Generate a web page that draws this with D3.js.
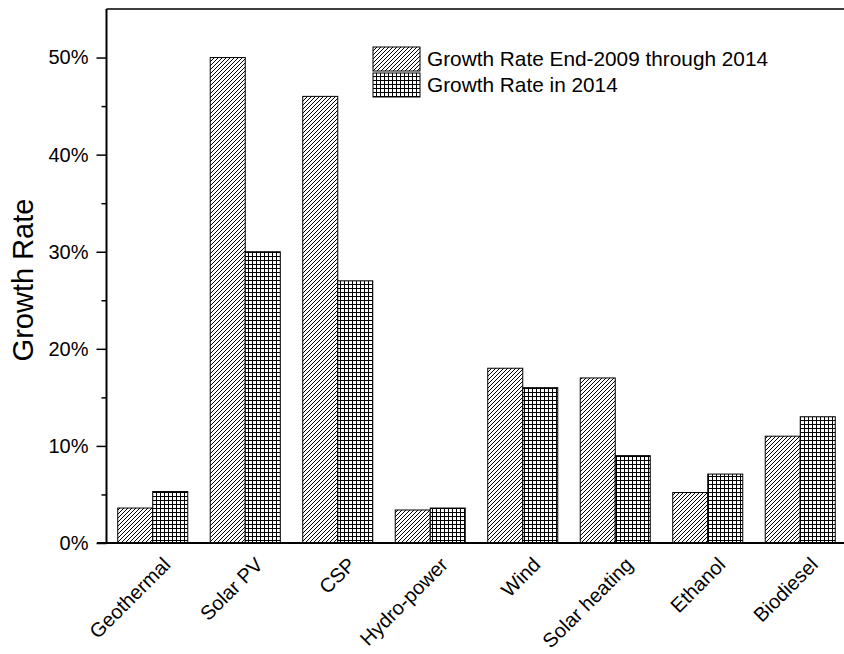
<!DOCTYPE html>
<html><head><meta charset="utf-8">
<script src="https://cdn.jsdelivr.net/npm/d3@7"></script>
<style>body{margin:0;background:#fff}svg{display:block}text{font-family:Arial,"Liberation Sans",sans-serif;fill:#000}</style>
</head><body><svg id="c" width="844" height="654"></svg>
<script>
const categories = ["Geothermal","Solar PV","CSP","Hydro-power","Wind","Solar heating","Ethanol","Biodiesel"];
const seriesNames = ["Growth Rate End-2009 through 2014","Growth Rate in 2014"];
const rate2009to2014 = [3.6, 50, 46, 3.4, 18, 17, 5.2, 11];
const rate2014 = [5.3, 30, 27, 3.6, 16, 9, 7.1, 13];
const yTicks = [0, 10, 20, 30, 40, 50];
const yMinorTicks = [5, 15, 25, 35, 45];

const svg = d3.select("#c");
const L = 106.5, R = 846.5, T = 9, B = 543;
const y = d3.scaleLinear().domain([0, 55]).range([B, T]);
const x = d3.scaleBand().domain(categories).range([L, R]).paddingInner(0.243).paddingOuter(0.1215);
const xs = d3.scaleBand().domain([0,1]).range([0, x.bandwidth()]);

const defs = svg.append("defs");
const ph = defs.append("pattern").attr("id","hatch").attr("patternUnits","userSpaceOnUse").attr("width",4).attr("height",4);
ph.append("rect").attr("width",4).attr("height",4).attr("fill","#fff");
ph.append("path").attr("d","M0,4 L4,0 M-1,1 L1,-1 M3,5 L5,3").attr("stroke","#000").attr("stroke-width",1);
const pg = defs.append("pattern").attr("id","grid").attr("patternUnits","userSpaceOnUse").attr("width",4).attr("height",4);
pg.append("rect").attr("width",4).attr("height",4).attr("fill","#fff");
pg.append("path").attr("d","M0,0.5 H4 M0.5,0 V4").attr("stroke","#000").attr("stroke-width",1);
const fills = ["url(#hatch)","url(#grid)"];

const series = [rate2009to2014, rate2014];
series.forEach((vals, si) => {
  svg.append("g").selectAll("rect").data(categories).join("rect")
    .attr("x", d => x(d) + xs(si))
    .attr("y", (d,i) => y(vals[i]))
    .attr("width", xs.bandwidth())
    .attr("height", (d,i) => B - y(vals[i]))
    .attr("fill", fills[si]).attr("stroke","#000").attr("stroke-width",1);
});

// axes
const yAxis = svg.append("g").attr("transform",`translate(${L},0)`)
  .call(d3.axisLeft(y).tickValues(yTicks).tickSize(10).tickPadding(8).tickFormat(d => d + "%"));
yAxis.select(".domain").remove();
yAxis.selectAll("line").attr("stroke-width",1.5);
yAxis.selectAll("text").attr("font-size",20).style("font-family","Arial, 'Liberation Sans', sans-serif");
svg.append("g").attr("transform",`translate(${L},0)`)
  .call(d3.axisLeft(y).tickValues(yMinorTicks).tickSize(5).tickFormat(""))
  .call(g => g.select(".domain").remove())
  .selectAll("line").attr("stroke-width",1.5);

svg.append("line").attr("x1",L).attr("x2",L).attr("y1",T).attr("y2",B).attr("stroke","#000").attr("stroke-width",2);
svg.append("line").attr("x1",L).attr("x2",844).attr("y1",T).attr("y2",T).attr("stroke","#000").attr("stroke-width",1.5);
svg.append("line").attr("x1",97).attr("x2",844).attr("y1",B).attr("y2",B).attr("stroke","#000").attr("stroke-width",2);

// category labels
svg.append("g").selectAll("text").data(categories).join("text")
  .attr("transform", d => `translate(${x(d) + x.bandwidth()/2 + 14},${561}) rotate(-45)`)
  .attr("text-anchor","end").attr("dy","0.35em").attr("font-size",20).text(d => d);

// y label
svg.append("text").attr("transform","translate(33,280) rotate(-90)").attr("text-anchor","middle")
  .attr("font-size",29).text("Growth Rate");

// legend
const lg = svg.append("g");
seriesNames.forEach((n, i) => {
  lg.append("rect").attr("x",373).attr("y",47 + i*26).attr("width",47).attr("height",24)
    .attr("fill",fills[i]).attr("stroke","#000").attr("stroke-width",1);
  lg.append("text").attr("x",427).attr("y",59 + i*26).attr("dy","0.35em").attr("font-size",20.8).text(n);
});
</script></body></html>
